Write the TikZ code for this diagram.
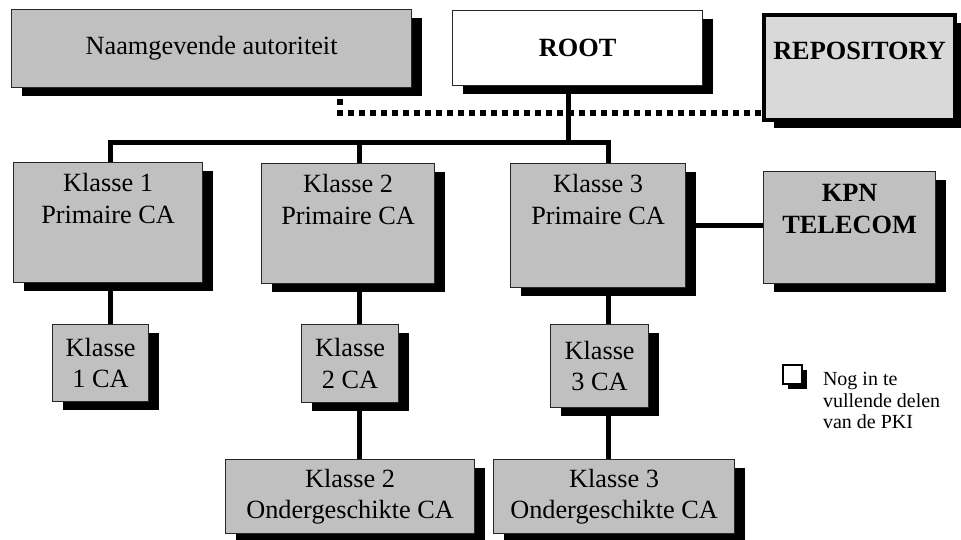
\documentclass[tikz,border=0pt]{standalone}
\usepackage{fontspec}
\setmainfont{Liberation Serif}
\usepackage{xcolor}
\usetikzlibrary{positioning, shadows}
\definecolor{boxgrey}{RGB}{192,192,192}
\definecolor{repogrey}{RGB}{217,217,217}

\tikzset{
  pkibox/.style={draw=black!85, line width=1.2pt, fill=boxgrey, inner sep=0pt,
    anchor=north west, align=center,
    drop shadow={shadow xshift=10pt, shadow yshift=-8pt, fill=black, opacity=1}},
  toptext/.style={align=center, anchor=north, yshift=#1},
  link/.style={line width=5pt},
  dotlink/.style={line width=6pt, dash pattern=on 6pt off 5pt}
}

\begin{document}
\begin{tikzpicture}[x=1pt, y=-1pt, font=\fontsize{26.3}{31.5}\selectfont]
  \useasboundingbox (0,0) rectangle (961,539);
  % top row
  \node[pkibox, minimum width=400pt, minimum height=78pt] (naam) at (11,9) {Naamgevende autoriteit};
  \node[pkibox, fill=white, minimum width=250pt, minimum height=75pt] (root) at (452,10) {\textbf{ROOT}};
  \node[pkibox, fill=repogrey, draw=black, line width=4pt, minimum width=191pt, minimum height=105pt,
    label={[toptext=-26pt]north:\textbf{REPOSITORY}}] (repo) at (762,13) {};
  % primaire CA's
  \node[pkibox, minimum width=189pt, minimum height=120pt,
    label={[toptext=-8pt]north:{Klasse 1\\Primaire CA}}] (k1p) at (13,162) {};
  \node[pkibox, minimum width=173pt, minimum height=120pt,
    label={[toptext=-8pt]north:{Klasse 2\\Primaire CA}}] (k2p) at (261,163) {};
  \node[pkibox, minimum width=175pt, minimum height=124pt,
    label={[toptext=-8pt]north:{Klasse 3\\Primaire CA}}] (k3p) at (510,163) {};
  \node[pkibox, minimum width=172pt, minimum height=112pt,
    label={[toptext=-10pt]north:{\textbf{KPN}\\\textbf{TELECOM}}}] (kpn) at (763,171) {};
  % klasse CA's
  \node[pkibox, minimum width=96pt, minimum height=77pt] (k1ca) at (52,324) {Klasse\\1 CA};
  \node[pkibox, minimum width=97pt, minimum height=78pt] (k2ca) at (301,324) {Klasse\\2 CA};
  \node[pkibox, minimum width=98pt, minimum height=83pt] (k3ca) at (550,324) {Klasse\\3 CA};
  % ondergeschikte CA's
  \node[pkibox, minimum width=249pt, minimum height=74pt] (k2o) at (225,459) {Klasse 2\\Ondergeschikte CA};
  \node[pkibox, minimum width=241pt, minimum height=74pt] (k3o) at (493,459) {Klasse 3\\Ondergeschikte CA};
  % legend
  \node[draw=black, line width=2.2pt, fill=white, inner sep=0pt, minimum size=19pt, anchor=north west,
    drop shadow={shadow xshift=5pt, shadow yshift=-5pt, fill=black, opacity=1}] (legbox) at (782,364) {};
  \node[anchor=north west, align=left, font=\fontsize{20}{21.5}\selectfont] (legtext) at (819.5,369)
    {Nog in te\\vullende delen\\van de PKI};

  % connectors
  \coordinate (bus) at (568,142);
  \coordinate (col1) at (110,0);
  \coordinate (col2) at (359,0);
  \coordinate (col3) at (608,0);
  \coordinate (dotbend) at (340,113);
  \draw[dotlink] (naam.south -| dotbend) -- (dotbend) -- (dotbend -| repo.west);
  \draw[link] (root.south -| bus) -- (bus);
  \draw[link] (k1p.north -| col1) -- (col1 |- bus) -- (col3 |- bus) -- (k3p.north -| col3);
  \draw[link] (col2 |- bus) -- (k2p.north -| col2);
  \draw[link] (k3p.east) -- (k3p.east -| kpn.west);
  \draw[link] (k1p.south -| col1) -- (k1ca.north -| col1);
  \draw[link] (k2p.south -| col2) -- (k2ca.north -| col2);
  \draw[link] (k2ca.south -| col2) -- (k2o.north -| col2);
  \draw[link] (k3p.south -| col3) -- (k3ca.north -| col3);
  \draw[link] (k3ca.south -| col3) -- (k3o.north -| col3);
\end{tikzpicture}
\end{document}
